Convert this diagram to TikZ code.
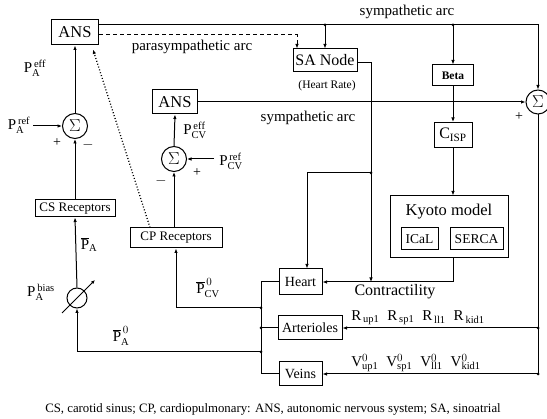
\documentclass[tikz,border=0pt]{standalone}
\usepackage{fontspec}
\setmainfont{Liberation Serif}
\usetikzlibrary{arrows.meta}
\newcommand{\fs}[1]{\fontsize{#1}{#1}\selectfont}
\begin{document}
\begin{tikzpicture}[x=1pt,y=-1pt,
  ln/.style={line width=1pt},
  arr/.style={line width=1pt,-{Latex[length=4.5pt,width=3.5pt]}},
  bx/.style={draw,line width=1pt,inner sep=0pt,align=center},
  sumnode/.style={circle,draw,line width=1pt,minimum size=25pt,inner sep=0pt,font=\fs{17}},
  jdot/.style={circle,fill,inner sep=0pt,minimum size=3pt},
  lbl/.style={inner sep=0pt,font=\fs{15}},
  sml/.style={inner sep=0pt,font=\fs{14}},
  pl/.style={inner sep=0pt,font=\fs{15}}]
\useasboundingbox (0,0) rectangle (547,419);

% boxes
\node[bx,minimum width=47pt,minimum height=25pt,font=\fs{16.5}] (ans1) at (75,32.5) {ANS};
\node[bx,minimum width=64pt,minimum height=23pt,font=\fs{16}] (sa) at (325,60.5) {SA Node};
\node[inner sep=0pt,font=\fs{11.5}] (hr) at (327,86) {(Heart Rate)};
\node[bx,minimum width=41pt,minimum height=21pt,font=\bfseries\fs{11.5}] (beta) at (453,75.5) {Beta};
\node[bx,minimum width=38pt,minimum height=25pt,font=\fs{16}] (csp) at (453,135) {C$_{\mathrm{ISP}}$};
\node[bx,minimum width=118pt,minimum height=62pt] (kyoto) at (449,227) {};
\node[inner sep=0pt,font=\fs{16.5}] (kyl) at (449,212) {Kyoto model};
\node[bx,minimum width=37pt,minimum height=22pt,font=\fs{13.5}] (ical) at (419.5,239) {ICaL};
\node[bx,minimum width=53pt,minimum height=22pt,font=\fs{13.5}] (serca) at (476.5,239) {SERCA};
\node[bx,minimum width=45pt,minimum height=24pt,font=\fs{16.5}] (ans2) at (175,102) {ANS};
\node[sumnode] (sumL) at (75,126) {$\Sigma$};
\node[sumnode] (sumM) at (174,159) {$\Sigma$};
\node[sumnode,minimum size=24pt] (sumR) at (538,102) {$\Sigma$};
\node[bx,minimum width=80pt,minimum height=17pt,font=\fs{13}] (csr) at (75,208.5) {CS Receptors};
\node[bx,minimum width=92pt,minimum height=20pt,font=\fs{13}] (cpr) at (176,238) {CP Receptors};
\node[bx,minimum width=43pt,minimum height=26pt,font=\fs{14}] (heart) at (300.5,282) {Heart};
\node[bx,minimum width=64pt,minimum height=24pt,font=\fs{14}] (art) at (310,328) {Arterioles};
\node[bx,minimum width=43pt,minimum height=24pt,font=\fs{14}] (veins) at (300.5,374) {Veins};
\node[circle,draw,line width=1pt,minimum size=20pt,inner sep=0pt] (var) at (77,298) {};

% labels
\node[lbl] (symtop) at (407,12) {sympathetic arc};
\node[lbl] (para) at (192,47) {parasympathetic arc};
\node[lbl] (symmid) at (308,118) {sympathetic arc};
\node[inner sep=0pt,font=\fs{16}] (contr) at (395,292) {Contractility};
\node[sml] (plus1) at (519,117) {+};
\node[pl] (pAeff) at (35,68) {$\mathrm{P}_{\mathrm{A}}^{\,\mathrm{eff}}$};
\node[pl] (pAref) at (19,125) {$\mathrm{P}_{\mathrm{A}}^{\,\mathrm{ref}}$};
\node[sml] (plus2) at (57,143) {+};
\node[sml] (minus2) at (88,145) {$-$};
\node[pl] (pCVeff) at (195,130) {$\mathrm{P}_{\mathrm{CV}}^{\,\mathrm{eff}}$};
\node[pl] (pCVref) at (231,161) {$\mathrm{P}_{\mathrm{CV}}^{\,\mathrm{ref}}$};
\node[sml] (plus3) at (197,173) {+};
\node[sml] (minus3) at (161,181) {$-$};
\node[pl] (pAbar) at (89,245) {$\overline{\mathrm{P}}_{\mathrm{A}}$};
\node[pl] (pAbias) at (41,292) {$\mathrm{P}_{\mathrm{A}}^{\,\mathrm{bias}}$};
\node[pl] (pA0) at (121,336) {$\overline{\mathrm{P}}_{\mathrm{A}}^{\,0}$};
\node[pl] (pCV0) at (208,288) {$\overline{\mathrm{P}}_{\mathrm{CV}}^{\,0}$};
\node[pl] (rlab) at (418,318) {$\mathrm{R}_{\,\mathrm{up1}}\;\;\mathrm{R}_{\,\mathrm{sp1}}\;\;\mathrm{R}_{\,\mathrm{ll1}}\;\;\mathrm{R}_{\,\mathrm{kid1}}$};
\node[pl] (vlab) at (416,363) {$\mathrm{V}_{\mathrm{up1}}^{0}\;\;\mathrm{V}_{\mathrm{sp1}}^{0}\;\;\mathrm{V}_{\mathrm{ll1}}^{0}\;\;\mathrm{V}_{\mathrm{kid1}}^{0}$};
\node[inner sep=0pt,font=\fs{12.8}] (cap) at (273,409) {CS, carotid sinus; CP, cardiopulmonary: ANS, autonomic nervous system; SA, sinoatrial};

% coordinates
\coordinate (tr) at (538,25);
\coordinate (tsa) at (325,25);
\coordinate (tbeta) at (453,25);
\coordinate (rart) at (538,328);
\coordinate (rvein) at (538,374);
\coordinate (saR) at (371,63);
\coordinate (jb) at (371,173);
\coordinate (jh) at (307,173);
\coordinate (hl) at (261,282);
\coordinate (jcp) at (261,308);
\coordinate (ja) at (261,328);
\coordinate (jpa) at (261,352);
\coordinate (vl) at (261,374);
\coordinate (pAin) at (33,126);
\coordinate (pCVin) at (214,159);
\coordinate (kyout) at (453,258);
\coordinate (va1) at (62,313);
\coordinate (va2) at (95,280);

% sympathetic top arc
\draw[arr] ([yshift=7.5pt]ans1.east) -- (tr) -- (sumR.north);
\node[jdot] at (tsa) {};
\node[jdot] at (tbeta) {};
\draw[arr] (tsa) -- (sa.north);
\draw[arr] (tbeta) -- (beta.north);
% parasympathetic
\draw[arr,dash pattern=on 4pt off 3pt] ([yshift=-2.5pt]ans1.east) -| ([xshift=-28pt]sa.north);
% second sympathetic arc
\draw[arr] (ans2.east) -- (sumR.west);
% right bus
\draw[ln] (sumR.south) -- (rvein);
\node[jdot] at (rart) {};
\node[jdot] at (rvein) {};
\draw[arr] (rart) -- (art.east);
\draw[arr] (rvein) -- (veins.east);
% beta chain
\draw[arr] (beta.south) -- (csp.north);
\draw[arr] (csp.south) -- (csp.south |- kyoto.north);
\draw[arr] (kyout) |- (heart.east);
% SA node to heart
\draw[arr] ([yshift=-2.5pt]sa.east) -| (saR |- heart.east);
\node[jdot] at (jb) {};
\draw[arr] (jb) -- (jh) -- (jh |- heart.north);
% left bus
\draw[ln] (heart.west) -- (hl) -- (vl) -- (veins.west);
\draw[ln] (ja) -- (art.west);
\node[jdot] at (ja) {};
\node[jdot] at (jcp) {};
\node[jdot] at (jpa) {};
\draw[arr] (jcp) -| (cpr.south);
\draw[arr] (jpa) -| (var.south);
% baroreflex loops
\draw[arr] (var.north) -- (csr.south);
\draw[arr] (csr.north) -- (sumL.south);
\draw[arr] (sumL.north) -- (ans1.south);
\draw[arr] (pAin) -- (sumL.west);
\draw[arr] (sumM.south |- cpr.north) -- (sumM.south);
\draw[arr] (sumM.north) -- (ans2.south);
\draw[arr] (pCVin) -- (sumM.east);
\draw[arr,dotted,line width=1.3pt] ([xshift=-26pt]cpr.north) -- ([xshift=18pt,yshift=-4pt]ans1.south);
% variable element arrow
\draw[line width=1pt,-{Latex[length=4pt,width=3.5pt]}] (va1) -- (va2);
\end{tikzpicture}
\end{document}
